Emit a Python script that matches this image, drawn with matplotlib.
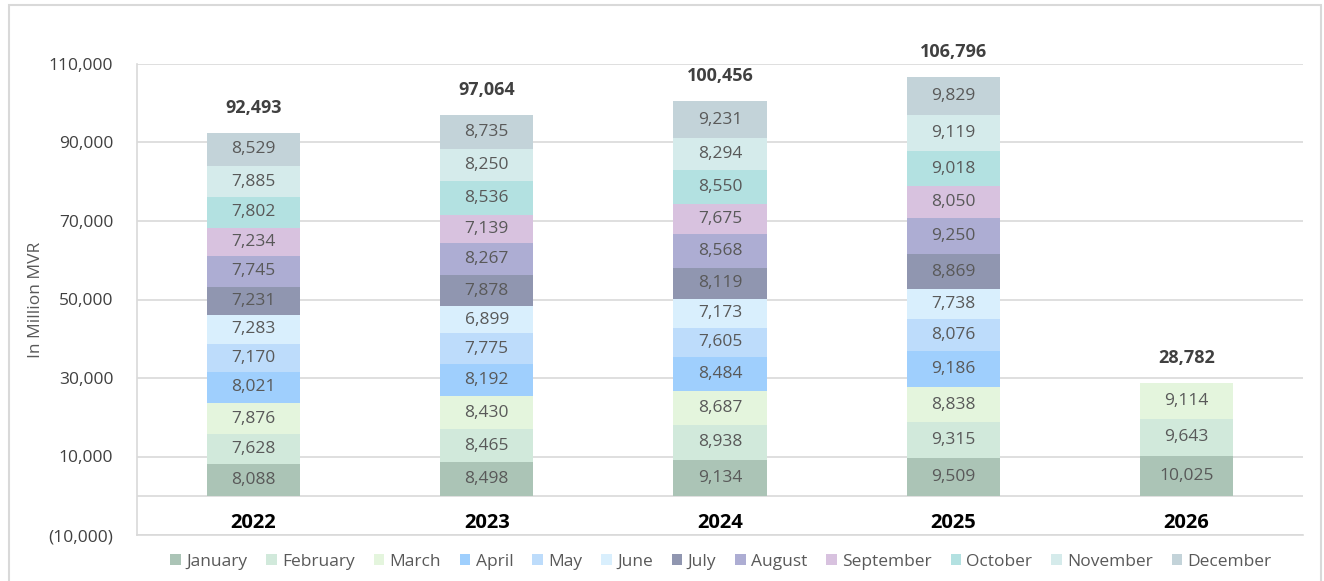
import matplotlib
matplotlib.use("Agg")
import matplotlib.pyplot as plt
from matplotlib.patches import Rectangle
import numpy as np

years = ["2022", "2023", "2024", "2025", "2026"]
months = ["January", "February", "March", "April", "May", "June", "July",
          "August", "September", "October", "November", "December"]
jan = [8088, 8498, 9134, 9509, 10025]
feb = [7628, 8465, 8938, 9315, 9643]
mar = [7876, 8430, 8687, 8838, 9114]
apr = [8021, 8192, 8484, 9186, None]
may = [7170, 7775, 7605, 8076, None]
jun = [7283, 6899, 7173, 7738, None]
jul = [7231, 7878, 8119, 8869, None]
aug = [7745, 8267, 8568, 9250, None]
sep = [7234, 7139, 7675, 8050, None]
octo = [7802, 8536, 8550, 9018, None]
nov = [7885, 8250, 8294, 9119, None]
dec = [8529, 8735, 9231, 9829, None]
totals = [92493, 97064, 100456, 106796, 28782]
series = [jan, feb, mar, apr, may, jun, jul, aug, sep, octo, nov, dec]
colors = ["#abc4b6", "#d1e9db", "#e4f5dd", "#9fcffd", "#bddcfb", "#d9effd",
          "#9096b0", "#adadd3", "#d8c2df", "#b3e1e1", "#d5ebeb", "#c3d3d9"]

plt.rcParams['font.family'] = ['Open Sans', 'DejaVu Sans']

fig = plt.figure(figsize=(13.24, 5.81), dpi=100)
ax = fig.add_axes([137/1324, 1-535/581, (1303-137)/1324, (535-64)/581])

x = np.arange(len(years))
bottom = np.zeros(len(years))
for name, vals, c in zip(months, series, colors):
    v = np.array([np.nan if a is None else a for a in vals], dtype=float)
    ax.bar(x, np.nan_to_num(v), width=0.4, bottom=bottom, color=c,
           label=name, zorder=3)
    for xi, vi, bi in zip(x, v, bottom):
        if not np.isnan(vi):
            ax.text(xi, bi + vi/2, f"{int(vi):,}", ha="center", va="center",
                    fontsize=12.5, color="#595959", zorder=4)
    bottom = bottom + np.nan_to_num(v)

for xi, t in zip(x, totals):
    ax.annotate(f"{t:,}", (xi, t), xytext=(0, 18), textcoords="offset points",
                ha="center", va="center", fontsize=13, fontweight="bold",
                color="#404040")

for xi, y in zip(x, years):
    ax.text(xi, -6900, y, ha="center", va="center", fontsize=14.5,
            fontweight="bold", color="black")

ax.set_xlim(-0.5, len(years) - 0.5)
ax.set_ylim(-10000, 110000)
ticks = np.arange(-10000, 110001, 20000)
ax.set_yticks(ticks)
ax.set_yticklabels([f"({abs(t):,})" if t < 0 else f"{t:,}" for t in ticks],
                   fontsize=12.5, color="#404040")
ax.tick_params(axis="y", length=0, pad=17)
ax.set_xticks([])
ax.grid(axis="y", color="#d9d9d9", lw=1.2, zorder=0)
ax.axhline(0, color="#d9d9d9", lw=1.2, zorder=1)
for s in ["top", "right"]:
    ax.spines[s].set_visible(False)
for s in ["left", "bottom"]:
    ax.spines[s].set_color("#d9d9d9")
    ax.spines[s].set_linewidth(1.2)

ax.set_ylabel("In Million MVR", fontsize=12.5, color="#595959")
ax.yaxis.set_label_coords(-0.08, 0.5)

leg = fig.legend(loc="center", bbox_to_anchor=(721/1324, 1-562/581), ncol=12,
                 frameon=False, fontsize=12.5, handlelength=0.6,
                 handleheight=0.6, handletextpad=0.3, columnspacing=1.1)
for t in leg.get_texts():
    t.set_color("#595959")

fig.patches.append(Rectangle((9/1324, -0.02), (1321-9)/1324, 1.02 - 5/581,
                             transform=fig.transFigure, fill=False,
                             edgecolor="#d9d9d9", lw=1.5))

fig.savefig("out.png", dpi=100)
